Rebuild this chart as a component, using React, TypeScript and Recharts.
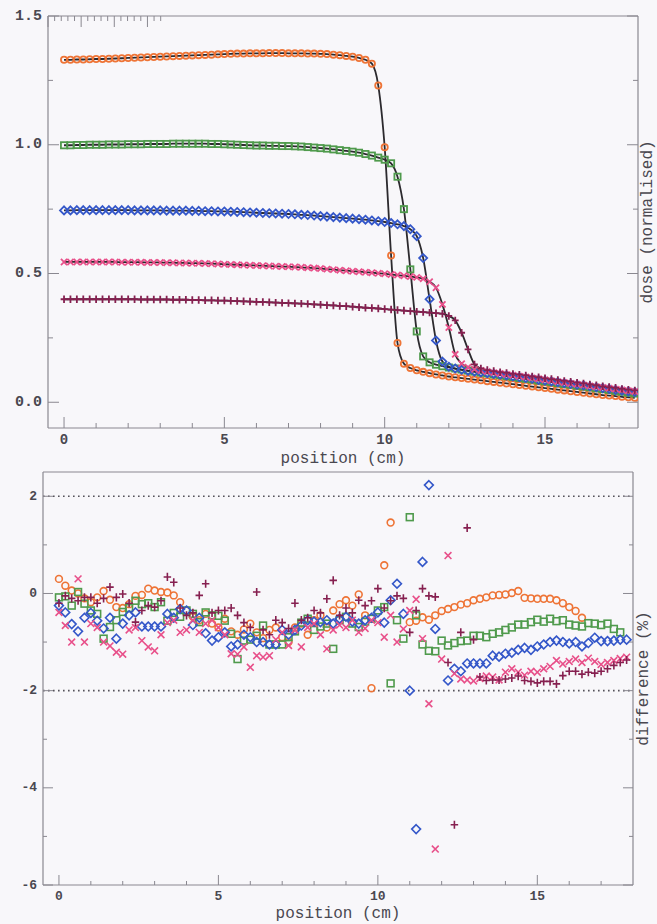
import React from 'react';
import { ComposedChart, ScatterChart, Scatter, Line, XAxis, YAxis, ReferenceLine } from 'recharts';

// ---------- shared positions (cm) ----------
const positions = [
  0, 0.2, 0.4, 0.6, 0.8, 1, 1.2, 1.4, 1.6, 1.8,
  2, 2.2, 2.4, 2.6, 2.8, 3, 3.2, 3.4, 3.6, 3.8,
  4, 4.2, 4.4, 4.6, 4.8, 5, 5.2, 5.4, 5.6, 5.8,
  6, 6.2, 6.4, 6.6, 6.8, 7, 7.2, 7.4, 7.6, 7.8,
  8, 8.2, 8.4, 8.6, 8.8, 9, 9.2, 9.4, 9.6, 9.8,
  10, 10.2, 10.4, 10.6, 10.8, 11, 11.2, 11.4, 11.6, 11.8,
  12, 12.2, 12.4, 12.6, 12.8, 13, 13.2, 13.4, 13.6, 13.8,
  14, 14.2, 14.4, 14.6, 14.8, 15, 15.2, 15.4, 15.6, 15.8,
  16, 16.2, 16.4, 16.6, 16.8, 17, 17.2, 17.4, 17.6, 17.8,
];

// ---------- top panel: dose (normalised) ----------
const doseOrange = [
  1.330, 1.330, 1.331, 1.331, 1.332, 1.333, 1.333, 1.334, 1.335, 1.336,
  1.337, 1.338, 1.339, 1.340, 1.341, 1.342, 1.343, 1.344, 1.345, 1.346,
  1.347, 1.348, 1.349, 1.350, 1.351, 1.352, 1.353, 1.354, 1.354, 1.355,
  1.355, 1.355, 1.356, 1.356, 1.356, 1.355, 1.355, 1.355, 1.354, 1.354,
  1.353, 1.352, 1.350, 1.348, 1.345, 1.342, 1.337, 1.330, 1.315, 1.230,
  0.990, 0.570, 0.230, 0.150, 0.133, 0.124, 0.118, 0.113, 0.108, 0.104,
  0.100, 0.097, 0.094, 0.091, 0.088, 0.085, 0.082, 0.079, 0.076, 0.073,
  0.070, 0.067, 0.064, 0.061, 0.058, 0.055, 0.052, 0.049, 0.046, 0.043,
  0.040, 0.037, 0.034, 0.031, 0.028, 0.026, 0.024, 0.021, 0.019, 0.017,
];
const doseGreen = [
  0.998, 0.998, 0.999, 0.999, 1.000, 1.000, 1.000, 1.001, 1.001, 1.001,
  1.002, 1.002, 1.002, 1.003, 1.003, 1.003, 1.003, 1.004, 1.004, 1.004,
  1.004, 1.004, 1.004, 1.003, 1.003, 1.002, 1.001, 1.000, 0.999, 0.998,
  0.997, 0.997, 0.996, 0.996, 0.995, 0.995, 0.994, 0.993, 0.991, 0.989,
  0.987, 0.985, 0.982, 0.979, 0.976, 0.973, 0.969, 0.964, 0.958, 0.950,
  0.942, 0.928, 0.876, 0.750, 0.516, 0.275, 0.178, 0.155, 0.146, 0.140,
  0.135, 0.131, 0.127, 0.123, 0.119, 0.115, 0.112, 0.108, 0.105, 0.101,
  0.098, 0.094, 0.091, 0.088, 0.084, 0.081, 0.078, 0.074, 0.071, 0.068,
  0.064, 0.061, 0.058, 0.054, 0.051, 0.048, 0.044, 0.041, 0.037, 0.034,
];
const doseBlue = [
  0.745, 0.745, 0.746, 0.746, 0.746, 0.746, 0.746, 0.746, 0.746, 0.746,
  0.746, 0.745, 0.745, 0.745, 0.745, 0.745, 0.744, 0.744, 0.744, 0.744,
  0.743, 0.743, 0.742, 0.742, 0.741, 0.741, 0.740, 0.739, 0.738, 0.737,
  0.736, 0.735, 0.734, 0.733, 0.732, 0.731, 0.730, 0.728, 0.727, 0.725,
  0.723, 0.721, 0.719, 0.717, 0.715, 0.713, 0.711, 0.709, 0.706, 0.703,
  0.700, 0.696, 0.691, 0.684, 0.672, 0.645, 0.560, 0.400, 0.240, 0.158,
  0.138, 0.131, 0.126, 0.122, 0.119, 0.116, 0.113, 0.110, 0.107, 0.104,
  0.100, 0.097, 0.094, 0.091, 0.087, 0.084, 0.081, 0.078, 0.074, 0.071,
  0.068, 0.065, 0.061, 0.058, 0.055, 0.052, 0.048, 0.045, 0.042, 0.039,
];
const doseMagenta = [
  0.545, 0.545, 0.545, 0.545, 0.545, 0.545, 0.545, 0.545, 0.545, 0.544,
  0.544, 0.544, 0.544, 0.543, 0.543, 0.543, 0.542, 0.542, 0.541, 0.541,
  0.540, 0.540, 0.539, 0.538, 0.537, 0.536, 0.535, 0.534, 0.533, 0.532,
  0.531, 0.530, 0.529, 0.528, 0.527, 0.526, 0.525, 0.524, 0.522, 0.521,
  0.519, 0.517, 0.515, 0.513, 0.511, 0.509, 0.507, 0.505, 0.503, 0.501,
  0.499, 0.496, 0.494, 0.491, 0.488, 0.485, 0.480, 0.468, 0.445, 0.380,
  0.290, 0.186, 0.150, 0.136, 0.128, 0.123, 0.119, 0.115, 0.112, 0.108,
  0.105, 0.101, 0.098, 0.094, 0.091, 0.087, 0.084, 0.080, 0.077, 0.073,
  0.070, 0.067, 0.063, 0.060, 0.057, 0.054, 0.051, 0.048, 0.045, 0.042,
];
const dosePurple = [
  0.400, 0.400, 0.400, 0.400, 0.400, 0.400, 0.400, 0.400, 0.400, 0.400,
  0.400, 0.400, 0.399, 0.399, 0.399, 0.399, 0.399, 0.398, 0.398, 0.398,
  0.397, 0.397, 0.396, 0.396, 0.395, 0.395, 0.394, 0.393, 0.392, 0.391,
  0.390, 0.389, 0.388, 0.387, 0.386, 0.385, 0.384, 0.383, 0.382, 0.380,
  0.379, 0.377, 0.376, 0.374, 0.373, 0.371, 0.369, 0.367, 0.366, 0.364,
  0.362, 0.360, 0.358, 0.356, 0.354, 0.352, 0.350, 0.348, 0.346, 0.344,
  0.335, 0.318, 0.270, 0.205, 0.147, 0.131, 0.125, 0.121, 0.117, 0.114,
  0.110, 0.107, 0.104, 0.100, 0.097, 0.093, 0.090, 0.087, 0.083, 0.080,
  0.076, 0.073, 0.069, 0.066, 0.062, 0.059, 0.056, 0.052, 0.049, 0.046,
];

// ---------- bottom panel: difference (%) ----------
const diffOrange = [
  0.30, 0.16, 0.06, 0.00, -0.10, -0.18, -0.08, 0.05, -0.13, -0.28,
  -0.30, -0.22, -0.05, -0.03, 0.10, 0.06, 0.03, 0.02, -0.04, -0.18,
  -0.35, -0.48, -0.55, -0.42, -0.62, -0.70, -0.52, -0.78, -0.85, -0.74,
  -0.62, -0.80, -0.92, -0.75, -0.70, -0.90, -1.00, -0.70, -0.62, -0.85,
  -0.55, -0.45, -0.70, -0.35, -0.22, -0.14, -0.25, -0.02, -0.45, -1.95,
  null, 0.58, 1.46, null, null, -0.59, -0.56, -0.49, -0.54, -0.45,
  -0.36, -0.32, -0.28, -0.23, -0.20, -0.14, -0.11, -0.08, -0.04, -0.03,
  -0.02, 0.01, 0.05, -0.09, -0.10, -0.11, -0.11, -0.11, -0.14, -0.20,
  -0.28, -0.36, -0.50, null, null, null, null, null, null, null,
];
const diffGreen = [
  -0.08, -0.06, -0.25, 0.03, -0.21, -0.35, -0.42, -0.93, -0.69, -0.55,
  -0.38, -0.30, -0.15, -0.22, -0.20, -0.28, -0.18, -0.56, -0.40, -0.48,
  -0.35, -0.42, -0.59, -0.39, -0.45, -0.46, -0.56, -0.83, -1.35, -0.97,
  -0.95, -0.87, -0.66, -1.05, -1.05, -1.05, -0.90, -0.78, -0.60, -0.52,
  -0.75, -0.68, -0.62, -1.14, -0.55, -0.48, -0.62, -0.69, -0.58, -0.52,
  -0.35, -0.28, -1.85, -0.55, -0.93, 1.57, -0.45, -1.05, -1.18, -1.19,
  -0.97, -1.07, -1.02, -0.98, -0.97, -0.87, -0.87, -0.90, -0.83, -0.80,
  -0.75, -0.70, -0.64, -0.64, -0.59, -0.54, -0.58, -0.52, -0.57, -0.55,
  -0.64, -0.66, -0.68, -0.61, -0.62, -0.65, -0.62, -0.73, -0.80, null,
];
const diffBlue = [
  -0.25, -0.39, -0.63, -0.78, -0.50, -0.40, -0.56, -0.72, -0.50, -0.93,
  -0.62, -0.45, -0.39, -0.68, -0.68, -0.68, -0.68, -0.42, -0.50, -0.32,
  -0.35, -0.65, -0.50, -0.82, -0.97, -0.90, -0.80, -1.09, -1.05, -0.85,
  -0.90, -1.00, -1.00, -1.05, -1.05, -0.75, -0.85, -0.75, -0.66, -0.55,
  -0.58, -0.59, -0.55, -0.62, -0.52, -0.48, -0.58, -0.62, -0.55, -0.50,
  -0.39, -0.60, -0.14, 0.20, -0.42, -2.00, -4.85, 0.65, 2.23, -0.73,
  null, -1.79, -1.55, -1.60, -1.44, -1.44, -1.44, -1.44, -1.28, -1.30,
  -1.24, -1.22, -1.16, -1.12, -1.16, -1.09, -1.05, -1.00, -0.97, -1.00,
  -1.03, -1.00, -1.09, -1.02, -0.91, -0.98, -0.98, -0.97, -0.95, -0.95,
];
const diffMagenta = [
  -0.39, -0.66, -1.00, 0.30, -1.00, -0.62, -0.70, -1.00, -1.08, -1.21,
  -1.25, -0.75, -0.70, -0.97, -1.10, -1.18, -0.85, -0.60, -0.55, -0.80,
  -0.75, -0.55, -0.80, -0.62, -0.55, -0.70, -0.85, -1.24, -1.25, -1.10,
  -1.52, -1.28, -1.31, -1.28, -0.95, -0.80, -1.07, -0.75, -1.10, -0.70,
  -0.62, -0.85, -1.14, -0.75, -0.65, -0.70, -0.55, -0.80, -0.72, -0.55,
  -0.60, -0.90, -0.45, -1.00, -0.73, -0.35, -0.12, -0.93, -2.27, -5.26,
  -1.35, 0.78, -1.65, -1.76, -1.78, -1.80, -1.75, -1.70, -1.72, -1.78,
  -1.62, -1.55, -1.62, -1.68, -1.60, -1.62, -1.55, -1.50, -1.38, -1.45,
  -1.40, -1.35, -1.42, -1.33, -1.40, -1.46, -1.42, -1.38, -1.34, -1.31,
];
const diffPurple = [
  -0.20, -0.05, -0.10, -0.15, -0.08, -0.08, -0.20, -0.10, 0.13, -0.08,
  -0.01, -0.20, -0.59, -0.35, -0.25, -0.28, -0.15, 0.34, 0.23, -0.30,
  -0.45, -0.40, -0.04, 0.20, -0.40, -0.35, -0.35, -0.30, -0.45, -0.60,
  -0.70, 0.03, -0.75, -0.85, -0.55, -0.60, -0.72, -0.20, -0.55, -0.50,
  -0.35, -0.40, -0.11, 0.27, -0.45, -0.30, -0.40, -0.14, -0.25, -0.15,
  0.10, -0.30, -0.15, -0.05, -0.10, -0.80, -0.35, 0.10, -0.05, -0.07,
  null, -1.42, -4.76, -0.80, 1.35, -0.95, -1.72, -1.79, -1.78, -1.78,
  -1.76, -1.74, -1.70, -1.79, -1.81, -1.84, -1.81, -1.81, -1.86, -1.69,
  -1.60, -1.60, -1.66, -1.62, -1.64, -1.60, -1.55, -1.48, -1.42, -1.37,
];

// ---------- ticks ----------
const xTicks = [0, 1, 2, 3, 4, 5, 6, 7, 8, 9, 10, 11, 12, 13, 14, 15, 16, 17];
const xMajor = [0, 5, 10, 15];
const doseTicks = [0, 0.25, 0.5, 0.75, 1, 1.25, 1.5];
const doseMajor = [0, 0.5, 1, 1.5];
const diffTicks = [-6, -5, -4, -3, -2, -1, 0, 1, 2];
const diffMajor = [-6, -4, -2, 0, 2];
const diffLimits = [2, -2];

// ---------- styles ----------
const MONO = '"Liberation Mono", "Courier New", monospace';
const FRAME = '#8a8890';
const TEXT = '#4a4850';
const BG = '#f8f7fa';
const C_ORANGE = '#ee7436';
const C_GREEN = '#4f9a4c';
const C_BLUE = '#3457c9';
const C_MAGENTA = '#e8508a';
const C_PURPLE = '#862050';
const C_MODEL = '#2c2a2e';

type Kind = 'circle' | 'square' | 'diamond' | 'cross' | 'plus';

function marker(kind: Kind, color: string, s: number, sw: number) {
  return (props: any) => {
    const { cx, cy } = props;
    if (cx == null || cy == null || !isFinite(cx) || !isFinite(cy)) return <g />;
    const common = { fill: 'none', stroke: color, strokeWidth: sw };
    if (kind === 'circle') return <circle cx={cx} cy={cy} r={s} {...common} />;
    if (kind === 'square') return <rect x={cx - s} y={cy - s} width={2 * s} height={2 * s} {...common} />;
    if (kind === 'diamond') {
      const d = s * 1.3;
      return <polygon points={`${cx},${cy - d} ${cx + d},${cy} ${cx},${cy + d} ${cx - d},${cy}`} {...common} />;
    }
    if (kind === 'cross')
      return <path d={`M${cx - s},${cy - s}L${cx + s},${cy + s}M${cx - s},${cy + s}L${cx + s},${cy - s}`} {...common} />;
    return <path d={`M${cx - s * 1.1},${cy}L${cx + s * 1.1},${cy}M${cx},${cy - s * 1.2}L${cx},${cy + s * 1.2}`} {...common} />;
  };
}

function xTick(side: 'bottom' | 'top', majorLen: number, minorLen: number, fontSize: number, gap: number) {
  return (props: any) => {
    const { x, y, payload } = props;
    const v = payload.value as number;
    const isMajor = xMajor.includes(v);
    const len = isMajor ? majorLen : minorLen;
    const dir = side === 'bottom' ? -1 : 1;
    return (
      <g>
        <line x1={x} x2={x} y1={y} y2={y + dir * len} stroke={FRAME} strokeWidth={1} />
        {side === 'bottom' && isMajor && (
          <text x={x} y={y + gap} textAnchor="middle" dominantBaseline="central" fontFamily={MONO}
            fontSize={fontSize} fontWeight="bold" fill={TEXT}>{v}</text>
        )}
      </g>
    );
  };
}

function yTick(side: 'left' | 'right', majors: number[], majorLen: number, minorLen: number,
  fontSize: number, fmt: (v: number) => string) {
  return (props: any) => {
    const { x, y, payload } = props;
    const v = payload.value as number;
    const isMajor = majors.includes(v);
    const len = isMajor ? majorLen : minorLen;
    const dir = side === 'left' ? 1 : -1;
    return (
      <g>
        <line x1={x} x2={x + dir * len} y1={y} y2={y} stroke={FRAME} strokeWidth={1} />
        {side === 'left' && isMajor && (
          <text x={x - 6} y={y} textAnchor="end" dominantBaseline="central" fontFamily={MONO}
            fontSize={fontSize} fontWeight="bold" fill={TEXT}>{fmt(v)}</text>
        )}
      </g>
    );
  };
}

function rightTitle(text: string, dx: number) {
  return (props: any) => {
    const vb = props.viewBox || {};
    const cx = (vb.x || 0) + (vb.width || 0) + dx;
    const cy = (vb.y || 0) + (vb.height || 0) / 2;
    return (
      <text transform={`translate(${cx},${cy}) rotate(-90)`} textAnchor="middle" dominantBaseline="central"
        fontFamily={MONO} fontSize={16} fill={TEXT}>{text}</text>
    );
  };
}

const topRows = positions.map((x, i) => ({
  x, o: doseOrange[i], g: doseGreen[i], b: doseBlue[i], m: doseMagenta[i], p: dosePurple[i],
}));

const pts = (vals: (number | null)[]) =>
  positions.map((x, i) => ({ x, y: vals[i] })).filter((d) => d.y !== null && d.y !== undefined);

const topSeries: { key: string; kind: Kind; color: string }[] = [
  { key: 'o', kind: 'circle', color: C_ORANGE },
  { key: 'g', kind: 'square', color: C_GREEN },
  { key: 'b', kind: 'diamond', color: C_BLUE },
  { key: 'm', kind: 'cross', color: C_MAGENTA },
  { key: 'p', kind: 'plus', color: C_PURPLE },
];

const bottomSeries: { name: string; vals: (number | null)[]; kind: Kind; color: string }[] = [
  { name: 'orange', vals: diffOrange, kind: 'circle', color: C_ORANGE },
  { name: 'green', vals: diffGreen, kind: 'square', color: C_GREEN },
  { name: 'blue', vals: diffBlue, kind: 'diamond', color: C_BLUE },
  { name: 'magenta', vals: diffMagenta, kind: 'cross', color: C_MAGENTA },
  { name: 'purple', vals: diffPurple, kind: 'plus', color: C_PURPLE },
];

const axisLine = { stroke: FRAME, strokeWidth: 1.2 };

export default function App() {
  return (
    <div style={{ position: 'absolute', left: 0, top: 0, width: 657, height: 924, background: BG, overflow: 'hidden' }}>
      <div style={{ position: 'absolute', left: 0, top: 0 }}>
        <ComposedChart width={657} height={472} data={topRows} margin={{ top: 15, right: 18, bottom: 43, left: 47 }}>
          <XAxis xAxisId={0} type="number" dataKey="x" domain={[-0.5, 17.9]} allowDataOverflow ticks={xTicks}
            interval={0} height={1} tickSize={0} tickMargin={0} tickLine={false}
            axisLine={axisLine} tick={xTick('bottom', 11, 5, 14, 12)}
            label={{ value: 'position (cm)', position: 'bottom', offset: 23, fill: TEXT, fontSize: 16, fontFamily: MONO }} />
          <XAxis xAxisId="t" orientation="top" type="number" domain={[-0.5, 17.9]} allowDataOverflow ticks={xTicks}
            interval={0} height={1} tickSize={0} tickMargin={0} tickLine={false}
            axisLine={axisLine} tick={xTick('top', 11, 5, 14, 12)} />
          <YAxis yAxisId={0} type="number" domain={[-0.1, 1.5]} allowDataOverflow ticks={doseTicks} interval={0}
            width={1} tickSize={0} tickMargin={0} tickLine={false} axisLine={axisLine}
            tick={yTick('left', doseMajor, 11, 5, 15, (v) => v.toFixed(1))} />
          <YAxis yAxisId="r" orientation="right" type="number" domain={[-0.1, 1.5]} allowDataOverflow ticks={doseTicks}
            interval={0} width={1} tickSize={0} tickMargin={0} tickLine={false} axisLine={axisLine}
            tick={yTick('right', doseMajor, 11, 5, 15, (v) => v.toFixed(1))}
            label={rightTitle('dose (normalised)', 9)} />
          {topSeries.map((s) => (
            <Scatter key={'s' + s.key} dataKey={s.key} isAnimationActive={false}
              shape={marker(s.kind, s.color, 3.1, 1.8)} />
          ))}
          {topSeries.map((s) => (
            <Line key={'l' + s.key} dataKey={s.key} type="monotone" stroke={C_MODEL} strokeWidth={1.8}
              dot={false} activeDot={false} isAnimationActive={false} />
          ))}
        </ComposedChart>
      </div>
      <div style={{ position: 'absolute', left: 0, top: 462 }}>
        <ScatterChart width={657} height={462} margin={{ top: 9, right: 23, bottom: 38, left: 42 }}>
          <XAxis xAxisId={0} type="number" dataKey="x" domain={[-0.5, 18]} allowDataOverflow ticks={xTicks}
            interval={0} height={1} tickSize={0} tickMargin={0} tickLine={false}
            axisLine={axisLine} tick={xTick('bottom', 10, 4, 13, 11)}
            label={{ value: 'position (cm)', position: 'bottom', offset: 21, fill: TEXT, fontSize: 16, fontFamily: MONO }} />
          <XAxis xAxisId="t" orientation="top" type="number" domain={[-0.5, 18]} allowDataOverflow ticks={xTicks}
            interval={0} height={1} tickSize={0} tickMargin={0} tickLine={false}
            axisLine={axisLine} tick={xTick('top', 10, 4, 13, 11)} />
          <YAxis yAxisId={0} type="number" dataKey="y" domain={[-6, 2.5]} allowDataOverflow ticks={diffTicks}
            interval={0} width={1} tickSize={0} tickMargin={0} tickLine={false} axisLine={axisLine}
            tick={yTick('left', diffMajor, 10, 4, 13, (v) => String(v))} />
          <YAxis yAxisId="r" orientation="right" type="number" domain={[-6, 2.5]} allowDataOverflow ticks={diffTicks}
            interval={0} width={1} tickSize={0} tickMargin={0} tickLine={false} axisLine={axisLine}
            tick={yTick('right', diffMajor, 10, 4, 13, (v) => String(v))}
            label={rightTitle('difference (%)', 10)} />
          {diffLimits.map((v) => (
            <ReferenceLine key={'ref' + v} y={v} stroke="#55535a" strokeWidth={1.6} strokeDasharray="1.6 3.4" />
          ))}
          {bottomSeries.map((s) => (
            <Scatter key={s.name} name={s.name} data={pts(s.vals)} isAnimationActive={false}
              shape={marker(s.kind, s.color, 3.4, 1.6)} />
          ))}
        </ScatterChart>
      </div>
    </div>
  );
}
